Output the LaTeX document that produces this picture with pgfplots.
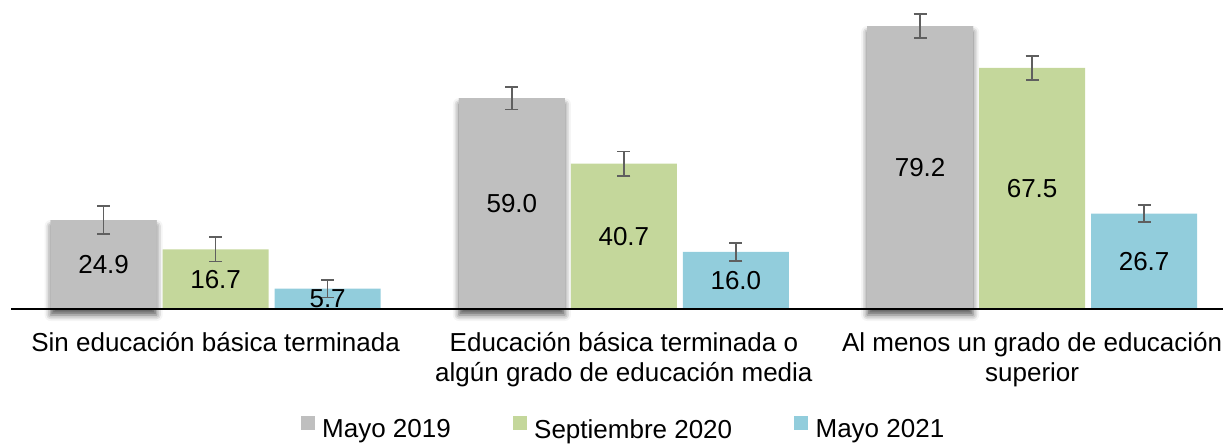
\documentclass[border=0pt]{standalone}
\usepackage{pgfplots}
\pgfplotsset{compat=1.18}
\usepackage{pgfplotstable}
\usepackage{fontspec}
\setmainfont{Liberation Sans}
\usetikzlibrary{shadows.blur}
\definecolor{cgray}{HTML}{BFBFBF}
\definecolor{cgreen}{HTML}{C4D79B}
\definecolor{cblue}{HTML}{92CDDC}
\definecolor{cerr}{HTML}{5F5F5F}

\pgfplotstableread{
x y err
0 24.9 3.9
1 59.0 3.2
2 79.2 3.4
}\mayoA
\pgfplotstableread{
x y err
0 16.7 3.4
1 40.7 3.4
2 67.5 3.4
}\sept
\pgfplotstableread{
x y err
0 5.7 2.5
1 16.0 2.5
2 26.7 2.4
}\mayoB

\pgfplotsset{
  mybar/.style={ybar, bar width=106pt, bar shift=0pt, draw=none},
  myerr/.style={error bars/.cd, y dir=both, y explicit,
     error bar style={cerr, line width=1.6pt},
     error mark options={cerr, rotate=90, mark size=6.5pt, line width=1.6pt}},
  mylab/.style={nodes near coords={\pgfmathprintnumber[fixed,fixed zerofill,precision=1]{\pgfplotspointmeta}},
     point meta=rawy,
     visualization depends on=rawy\as\rawy,
     nodes near coords style={anchor=center, black, font=\fontsize{26}{30}\selectfont,
        shift={(axis direction cs:0,-\rawy/2)}}},
}

\begin{document}
\begin{tikzpicture}[font=\fontsize{26}{30}\selectfont]
\begin{axis}[
  width=1224.75pt, height=309pt, scale only axis,
  xmin=-0.5, xmax=2.5, ymin=0, ymax=86.5,
  clip=false,
  axis x line*=bottom, axis y line=none,
  x axis line style={-, line width=1.6pt, black},
  axis on top,
  xtick={0,1,2},
  xticklabels={Sin educación básica terminada, {Educación básica terminada o\\algún grado de educación media}, {Al menos un grado de educación\\superior}},
  major tick length=0pt,
  xticklabel style={align=center, font=\fontsize{26}{30}\selectfont, yshift=-20pt},
  /pgf/number format/assume math mode=true,
  legend style={at={(623.5pt-11.5pt,-120pt)}, anchor=center, draw=none, fill=none,
     legend columns=3, font=\fontsize{26}{30}\selectfont,
     /tikz/every odd column/.append style={column sep=6pt},
     /tikz/every even column/.append style={column sep=60pt}},
  legend cell align=left,
]
% shadow for grey bars
\addplot[mybar, fill=cgray, forget plot,
  blur shadow={shadow xshift=0pt, shadow yshift=-6pt, shadow blur radius=6pt, shadow opacity=65}]
  table[x expr=\thisrow{x}-0.27434,y=y]{\mayoA};
\addplot[mybar, fill=cgray, forget plot, mylab, myerr]
  table[x expr=\thisrow{x}-0.27434,y=y,y error=err]{\mayoA};
\addplot[mybar, fill=cgreen, forget plot, mylab, myerr]
  table[x=x,y=y,y error=err]{\sept};
\addplot[mybar, fill=cblue, forget plot, mylab, myerr]
  table[x expr=\thisrow{x}+0.27434,y=y,y error=err]{\mayoB};

\addlegendimage{legend image code/.code={\fill[cgray] (0pt,0pt) rectangle (13pt,13pt);}}
\addlegendentry{Mayo 2019}
\addlegendimage{legend image code/.code={\fill[cgreen] (0pt,0pt) rectangle (13pt,13pt);}}
\addlegendentry{Septiembre 2020}
\addlegendimage{legend image code/.code={\fill[cblue] (0pt,0pt) rectangle (13pt,13pt);}}
\addlegendentry{Mayo 2021}
\end{axis}
\pgfresetboundingbox
\useasboundingbox ([xshift=-11.5pt,yshift=-135pt]current axis.south west) rectangle ([xshift=1211.5pt,yshift=309pt]current axis.south west);
\end{tikzpicture}
\end{document}
